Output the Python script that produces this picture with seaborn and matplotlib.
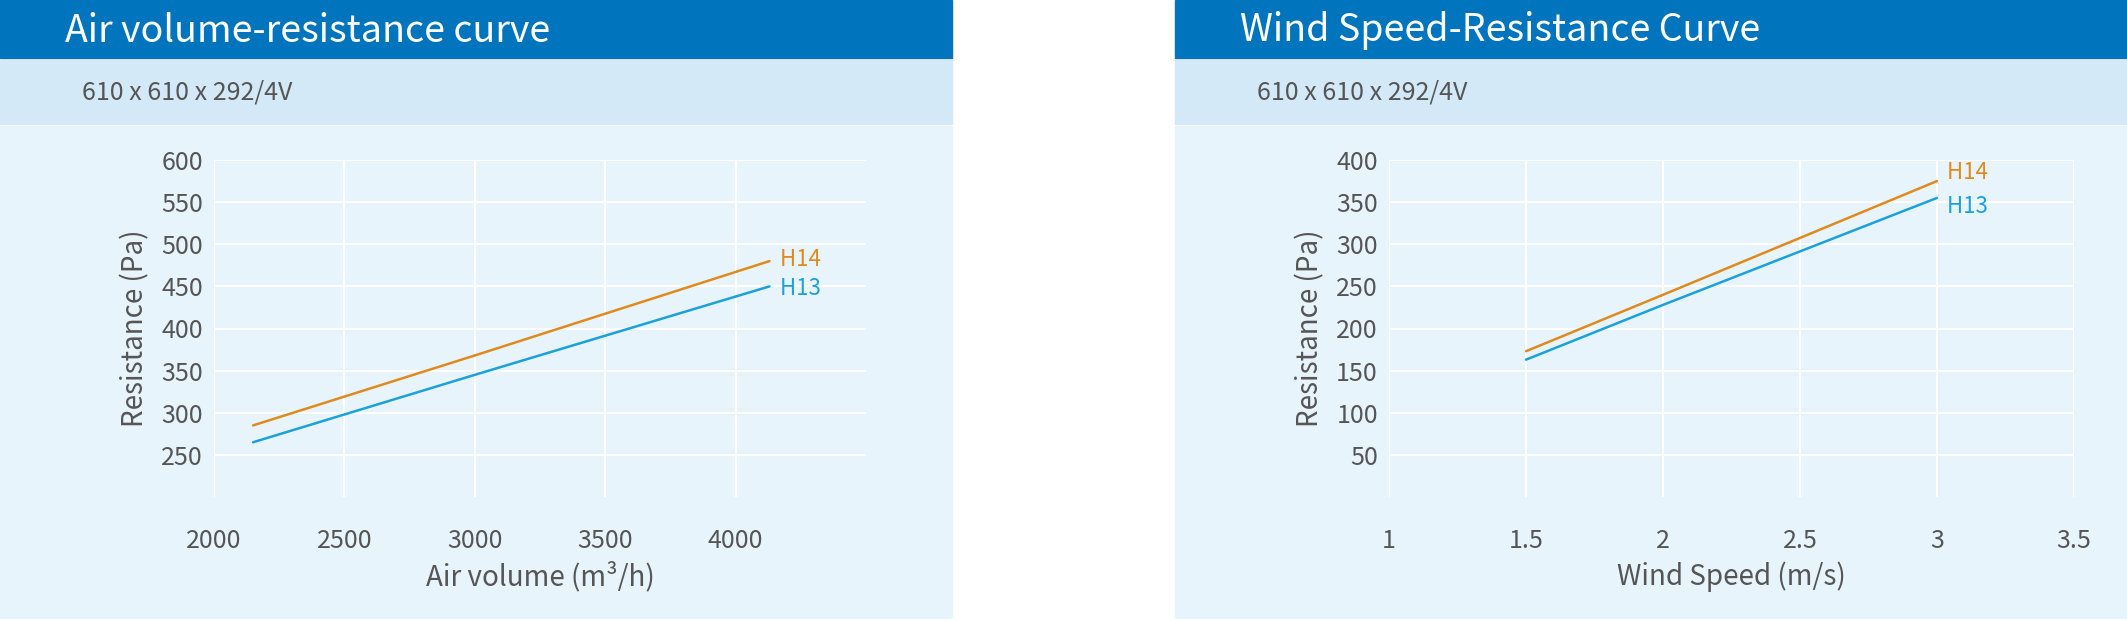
import pandas as pd
import matplotlib.pyplot as plt
import seaborn as sns
from matplotlib.patches import Rectangle

# ------------ Data ------------
air_volume = [2150, 3000, 4130]
air_h14 = [285, 368, 480]
air_h13 = [265, 345, 450]

wind_speed = [1.5, 2.0, 3.0]
wind_h14 = [173, 240, 375]
wind_h13 = [163, 228, 355]

C_H14 = "#E08A1E"
C_H13 = "#1BA1DB"
TXT = "#555555"

sns.set_style("white")
plt.rcParams["font.family"] = ["Noto Sans CJK SC", "DejaVu Sans"]

W, H = 2127, 620
fig = plt.figure(figsize=(W / 100, H / 100), dpi=100)
fig.patch.set_facecolor("white")


def panel(x0, x1, title, sub):
    # background bands, pixel coordinates -> figure fractions
    def rect(y0, y1, color):
        fig.add_artist(Rectangle((x0 / W, 1 - y1 / H), (x1 - x0) / W, (y1 - y0) / H,
                                 transform=fig.transFigure, color=color, zorder=0))
    rect(0, 58, "#0075BE")
    rect(60, 124, "#D3E9F7")
    rect(126, 618, "#E8F4FC")
    fig.text((x0 + 65) / W, 1 - 31 / H, title, color="white", fontsize=27, va="center")
    fig.text((x0 + 82) / W, 1 - 93 / H, sub, color=TXT, fontsize=18, va="center")


def chart(rect_px, x, h14, h13, xlim, xticks, ylim, yticks, xlabel, lab_off):
    l, r, t, b = rect_px
    ax = fig.add_axes([l / W, 1 - b / H, (r - l) / W, (b - t) / H])
    df = pd.DataFrame({"x": list(x) * 2, "y": list(h14) + list(h13),
                       "s": ["H14"] * len(x) + ["H13"] * len(x)})
    sns.lineplot(data=df, x="x", y="y", hue="s", palette={"H14": C_H14, "H13": C_H13},
                 ax=ax, legend=False, linewidth=1.8)
    ax.set_facecolor("#E8F4FC")
    ax.set_xlim(*xlim)
    ax.set_ylim(*ylim)
    ax.set_xticks(xticks)
    ax.set_yticks(yticks)
    ax.set_xticklabels([f"{v:g}" for v in xticks])
    ax.grid(True, color="white", linewidth=1.5)
    for s in ax.spines.values():
        s.set_visible(False)
    ax.tick_params(colors=TXT, labelsize=18, length=0, pad=8)
    ax.tick_params(axis="x", pad=22)
    ax.set_xlabel(xlabel, color=TXT, fontsize=20, labelpad=6)
    ax.set_ylabel("Resistance (Pa)", color=TXT, fontsize=20, labelpad=8)
    ax.text(x[-1], h14[-1] + lab_off[0], "  H14", color=C_H14, fontsize=16, va="center")
    ax.text(x[-1], h13[-1] + lab_off[1], "  H13", color=C_H13, fontsize=16, va="center")
    return ax


panel(0, 952, "Air volume-resistance curve", "610 x 610 x 292/4V")
panel(1175, 2127, "Wind Speed-Resistance Curve", "610 x 610 x 292/4V")

chart((214, 866, 160, 497), air_volume, air_h14, air_h13, (2000, 4500),
      [2000, 2500, 3000, 3500, 4000], (200, 600), [250, 300, 350, 400, 450, 500, 550, 600],
      "Air volume (m³/h)", (2, -2))
chart((1389, 2074, 160, 497), wind_speed, wind_h14, wind_h13, (1, 3.5),
      [1, 1.5, 2, 2.5, 3, 3.5], (0, 400), [50, 100, 150, 200, 250, 300, 350, 400],
      "Wind Speed (m/s)", (10, -10))

fig.savefig("out.png", dpi=100)
